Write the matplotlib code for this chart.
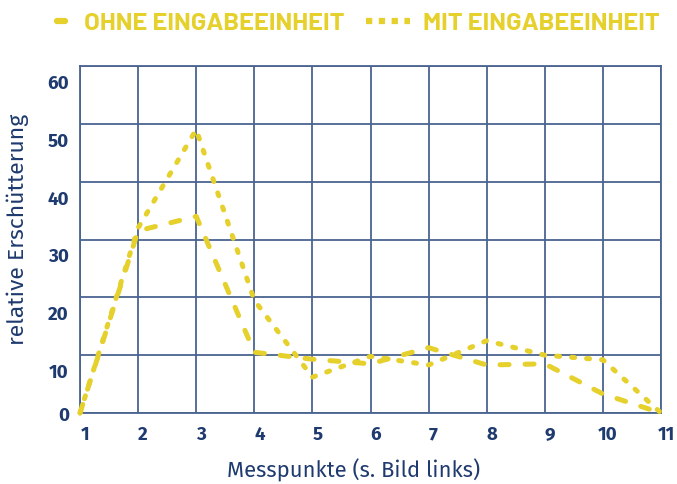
import numpy as np
import matplotlib
matplotlib.use("Agg")
import matplotlib.pyplot as plt
from matplotlib.lines import Line2D
from matplotlib.transforms import ScaledTranslation

# data
messpunkte = [1, 2, 3, 4, 5, 6, 7, 8, 9, 10, 11]
ohne_eingabe = [0, 31.5, 34, 10.5, 9.3, 8.5, 11.3, 8.3, 8.5, 3.3, 0]
mit_eingabe = [0, 32, 49, 19.5, 6.2, 9.8, 8.3, 12.5, 10, 9.2, 0]
y_ticks = [0, 10, 20, 30, 40, 50, 60]
labels = ["OHNE EINGABEEINHEIT", "MIT EINGABEEINHEIT"]

yellow = "#E5D02C"
navy = "#1E3A6E"
gridc = "#4A6390"

W, H = 677, 485
fig = plt.figure(figsize=(6.77, 4.85), dpi=100)
ax = fig.add_axes([80 / W, 1 - 414 / H, 581 / W, 347 / H])

lw = 3.6
ax.plot(messpunkte, ohne_eingabe, color=yellow, lw=lw,
        dashes=(1.8, 3.2), dash_capstyle="round", zorder=3, clip_on=False)
ax.plot(messpunkte, mit_eingabe, color=yellow, lw=lw,
        dashes=(0.6, 2.4), dash_capstyle="round", zorder=3, clip_on=False)

ax.set_xlim(1, 11)
ax.set_ylim(0, 60)
ax.set_xticks(messpunkte)
ax.set_yticks(y_ticks)
ax.grid(True, color=gridc, lw=1.3)
for s in ax.spines.values():
    s.set_color(gridc)
    s.set_linewidth(1.3)
ax.tick_params(length=0, colors=navy, labelsize=13.5)
ax.tick_params(axis="x", pad=9)
ax.tick_params(axis="y", pad=8)
tick_font = ["Fira Sans", "Barlow", "Lato"]
for lab in ax.get_xticklabels():
    lab.set_fontweight("bold")
    lab.set_fontfamily(tick_font)
    lab.set_transform(lab.get_transform() + ScaledTranslation(0.05, 0, fig.dpi_scale_trans))
for lab, v in zip(ax.get_yticklabels(), y_ticks):
    lab.set_fontweight("bold")
    lab.set_fontfamily(tick_font)
    if v > 0:
        lab.set_transform(lab.get_transform() + ScaledTranslation(0, -0.15, fig.dpi_scale_trans))

light_font = ["Fira Sans", "Open Sans"]
fig.text(354 / W, 1 - 470 / H, "Messpunkte (s. Bild links)", color=navy, fontsize=15.8,
         family=light_font, fontweight="normal", ha="center", va="center")
fig.text(18 / W, 1 - 229 / H, "relative Erschütterung", color=navy, fontsize=16.5,
         family=light_font, fontweight="normal", rotation=90, ha="center", va="center")

# legend drawn in figure pixels
leg_y = 1 - 22 / H
fig.add_artist(Line2D([57 / W, 65 / W], [leg_y, leg_y], color=yellow, lw=4.5,
                      solid_capstyle="round"))
fig.add_artist(Line2D([366 / W, 410 / W], [leg_y, leg_y], color=yellow, lw=4.5,
                      dashes=(1, 1.05), dash_capstyle="butt"))
leg_font = dict(family="Barlow", weight=700, size=18.3, color=yellow,
                va="center", ha="left")
fig.text(84 / W, leg_y - 2 / H, labels[0], **leg_font)
fig.text(423 / W, leg_y - 2 / H, labels[1], **leg_font)

fig.savefig("out.png", dpi=100)
